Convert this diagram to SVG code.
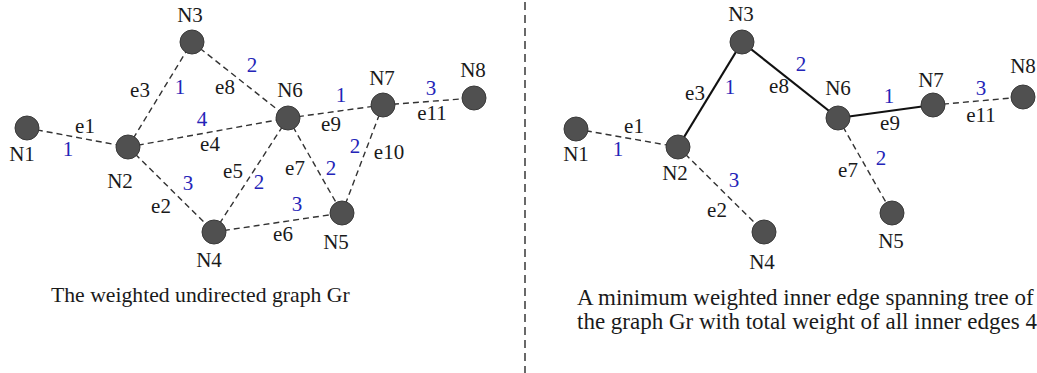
<svg xmlns="http://www.w3.org/2000/svg" width="1037" height="373" viewBox="0 0 1037 373" font-family="'Liberation Serif', 'Times New Roman', serif">
<style>
.bg{fill:#ffffff}
.node{fill:#505050;stroke:#3a3a3a;stroke-width:1}
.dash{stroke:#333;stroke-width:1.4;stroke-dasharray:6,4;fill:none}
.solid{stroke:#111;stroke-width:2.2;fill:none}
.div{stroke:#444;stroke-width:1.6;stroke-dasharray:8,5}
text{font-size:21px;fill:#1a1a1a;text-anchor:middle}
text.w{fill:#2424b8}
text.cap{font-size:23px;text-anchor:start}
text.capl{font-size:21.7px}
</style>
<rect class="bg" x="0" y="0" width="1037" height="373"/>
<g id="connectors">
<line class="div" x1="525" y1="2" x2="525" y2="373"/>
<line class="dash" x1="27" y1="128" x2="128" y2="147"/>
<line class="dash" x1="128" y1="147" x2="192" y2="42"/>
<line class="dash" x1="192" y1="42" x2="288" y2="118"/>
<line class="dash" x1="128" y1="147" x2="288" y2="118"/>
<line class="dash" x1="128" y1="147" x2="214" y2="232"/>
<line class="dash" x1="214" y1="232" x2="288" y2="118"/>
<line class="dash" x1="288" y1="118" x2="342" y2="213"/>
<line class="dash" x1="214" y1="232" x2="342" y2="213"/>
<line class="dash" x1="288" y1="118" x2="383" y2="105"/>
<line class="dash" x1="383" y1="105" x2="342" y2="213"/>
<line class="dash" x1="383" y1="105" x2="474" y2="98"/>
<line class="dash" x1="576" y1="129" x2="678" y2="147"/>
<line class="solid" x1="678" y1="147" x2="742" y2="42"/>
<line class="solid" x1="742" y1="42" x2="838" y2="118"/>
<line class="solid" x1="838" y1="118" x2="933" y2="105"/>
<line class="dash" x1="933" y1="105" x2="1023" y2="97"/>
<line class="dash" x1="678" y1="147" x2="764" y2="232"/>
<line class="dash" x1="838" y1="118" x2="892" y2="213"/>
</g>
<g id="edge-labels-left">
<text x="85" y="133">e1</text><text class="w" x="68" y="156">1</text>
<text x="140" y="97">e3</text><text class="w" x="180" y="94">1</text>
<text x="225" y="94">e8</text><text class="w" x="252" y="72">2</text>
<text x="210" y="151">e4</text><text class="w" x="202" y="126">4</text>
<text x="161" y="213">e2</text><text class="w" x="188" y="190">3</text>
<text x="233" y="178">e5</text><text class="w" x="259" y="189">2</text>
<text x="295" y="175">e7</text><text class="w" x="331" y="175">2</text>
<text x="283" y="241">e6</text><text class="w" x="297" y="211">3</text>
<text x="331" y="131">e9</text><text class="w" x="341" y="102">1</text>
<text x="389" y="159">e10</text><text class="w" x="355" y="153">2</text>
<text x="432" y="120">e11</text><text class="w" x="431" y="95">3</text>
</g>
<g id="edge-labels-right">
<text x="634" y="133">e1</text><text class="w" x="618" y="156">1</text>
<text x="695" y="100">e3</text><text class="w" x="730" y="94">1</text>
<text x="779" y="93">e8</text><text class="w" x="801" y="71">2</text>
<text x="717" y="217">e2</text><text class="w" x="734" y="187">3</text>
<text x="848" y="177">e7</text><text class="w" x="881" y="165">2</text>
<text x="890" y="130">e9</text><text class="w" x="889" y="103">1</text>
<text x="981" y="122">e11</text><text class="w" x="981" y="95">3</text>
</g>
<g id="L-N1"><circle class="node" cx="27" cy="128" r="12"/><text x="22" y="161">N1</text></g>
<g id="L-N2"><circle class="node" cx="128" cy="147" r="12"/><text x="120" y="188">N2</text></g>
<g id="L-N3"><circle class="node" cx="192" cy="42" r="12"/><text x="190" y="22">N3</text></g>
<g id="L-N4"><circle class="node" cx="214" cy="232" r="12"/><text x="209" y="267">N4</text></g>
<g id="L-N5"><circle class="node" cx="342" cy="213" r="12"/><text x="336" y="249">N5</text></g>
<g id="L-N6"><circle class="node" cx="288" cy="118" r="12"/><text x="290" y="97">N6</text></g>
<g id="L-N7"><circle class="node" cx="383" cy="105" r="12"/><text x="382" y="85">N7</text></g>
<g id="L-N8"><circle class="node" cx="474" cy="98" r="12"/><text x="473" y="77">N8</text></g>
<g id="R-N1"><circle class="node" cx="576" cy="129" r="12"/><text x="576" y="161">N1</text></g>
<g id="R-N2"><circle class="node" cx="678" cy="147" r="12"/><text x="675" y="180">N2</text></g>
<g id="R-N3"><circle class="node" cx="742" cy="42" r="12"/><text x="741" y="21">N3</text></g>
<g id="R-N4"><circle class="node" cx="764" cy="232" r="12"/><text x="762" y="269">N4</text></g>
<g id="R-N5"><circle class="node" cx="892" cy="213" r="12"/><text x="891" y="248">N5</text></g>
<g id="R-N6"><circle class="node" cx="838" cy="118" r="12"/><text x="838" y="95">N6</text></g>
<g id="R-N7"><circle class="node" cx="933" cy="105" r="12"/><text x="931" y="87">N7</text></g>
<g id="R-N8"><circle class="node" cx="1023" cy="97" r="12"/><text x="1023" y="73">N8</text></g>
<g id="captions">
<text class="cap capl" x="51" y="302">The weighted undirected graph Gr</text>
<text class="cap" x="577" y="305">A minimum weighted inner edge spanning tree of</text>
<text class="cap" x="577" y="329">the graph Gr with total weight of all inner edges 4</text>
</g>
</svg>
